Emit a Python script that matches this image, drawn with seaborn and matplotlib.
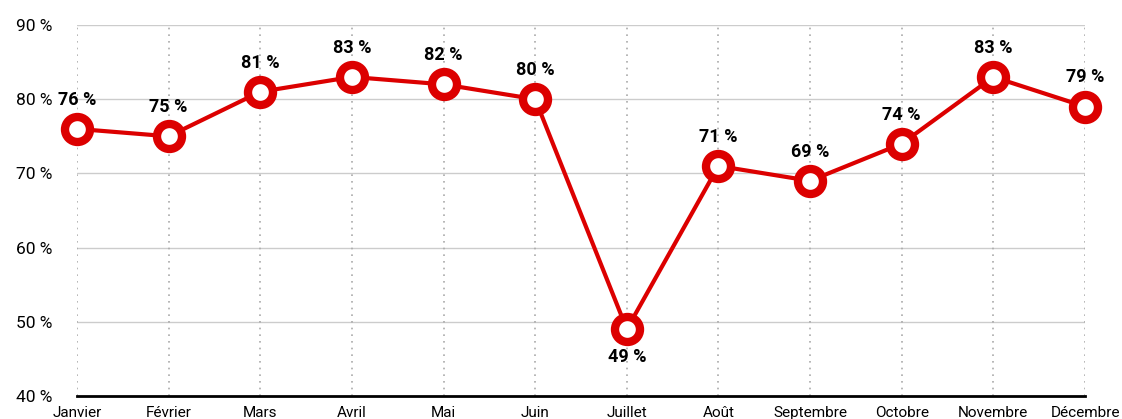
import pandas as pd
import numpy as np
import matplotlib.pyplot as plt
import seaborn as sns

# Monthly rates (%)
months = ['Janvier', 'Février', 'Mars', 'Avril', 'Mai', 'Juin', 'Juillet',
          'Août', 'Septembre', 'Octobre', 'Novembre', 'Décembre']
rates = [76, 75, 81, 83, 82, 80, 49, 71, 69, 74, 83, 79]
y_ticks = [40, 50, 60, 70, 80, 90]

df = pd.DataFrame({'mois': months, 'taux': rates})
df['pos'] = range(len(df))

sns.set_style('white')
plt.rcParams['font.family'] = ['Roboto', 'DejaVu Sans']
plt.rcParams['text.color'] = 'black'
plt.rcParams['xtick.color'] = 'black'
plt.rcParams['ytick.color'] = 'black'

red = '#dc0000'
fig = plt.figure(figsize=(11.22, 4.19), dpi=100)
ax = fig.add_axes([77 / 1122, 1 - 396 / 419, 1008 / 1122, 371 / 419])

# grid
for t in y_ticks[1:]:
    ax.axhline(t, color='#cccccc', lw=1, zorder=0)
for p in df['pos']:
    ax.axvline(p, color='#aaaaaa', lw=1.2, ls=(0, (1, 3)), zorder=0)

sns.lineplot(data=df, x='pos', y='taux', ax=ax, color=red, lw=3, zorder=3,
             marker='o', markersize=18, markerfacecolor='white',
             markeredgecolor=red, markeredgewidth=6, clip_on=False)

for p, v in zip(df['pos'], df['taux']):
    off = -20 if v < 60 else 21
    ax.annotate(f'{v} %', (p, v), xytext=(0, off), textcoords='offset points',
                ha='center', va='center', fontsize=13, fontweight='bold',
                color='black')

ax.set_xlim(0, len(months) - 1)
ax.set_ylim(40, 90)
ax.set_xticks(df['pos'])
ax.set_xticklabels(months, fontsize=11)
ax.set_yticks(y_ticks)
ax.set_yticklabels([f'{t} %' for t in y_ticks], fontsize=12.5)
ax.tick_params(axis='x', length=0, pad=7)
ax.tick_params(axis='y', length=0, pad=18)
ax.set_xlabel('')
ax.set_ylabel('')
for s in ['top', 'right', 'left']:
    ax.spines[s].set_visible(False)
ax.spines['bottom'].set_color('black')
ax.spines['bottom'].set_linewidth(2)

fig.savefig('out.png', dpi=100)
